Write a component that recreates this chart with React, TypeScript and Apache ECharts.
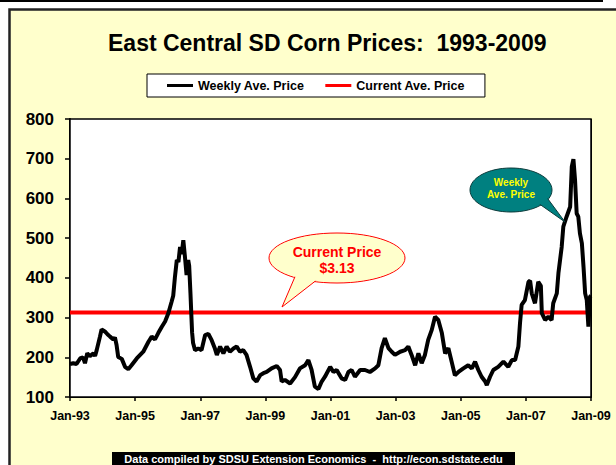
import React, { useEffect, useRef } from "react";
import * as echarts from "echarts";

// Decimal year of each reading and the weekly average price (cents/bu)
const weekYears = [
  1993.0, 1993.1, 1993.2, 1993.31, 1993.4, 1993.46, 1993.53, 1993.61, 1993.72, 1993.77,
  1993.82, 1993.92, 1993.97, 1994.07, 1994.15, 1994.23, 1994.33, 1994.38, 1994.43, 1994.48,
  1994.59, 1994.69, 1994.79, 1994.89, 1995.05, 1995.25, 1995.41, 1995.51, 1995.61, 1995.71,
  1995.82, 1995.92, 1996.02, 1996.12, 1996.17, 1996.22, 1996.28, 1996.33, 1996.38, 1996.43,
  1996.48, 1996.53, 1996.58, 1996.63, 1996.66, 1996.7, 1996.73, 1996.75, 1996.78, 1996.84,
  1996.94, 1997.04, 1997.15, 1997.25, 1997.35, 1997.45, 1997.51, 1997.61, 1997.71, 1997.81,
  1997.91, 1998.02, 1998.12, 1998.22, 1998.32, 1998.42, 1998.53, 1998.63, 1998.73, 1998.84,
  1998.94, 1999.04, 1999.19, 1999.35, 1999.45, 1999.5, 1999.6, 1999.76, 1999.91, 2000.06,
  2000.22, 2000.32, 2000.42, 2000.52, 2000.63, 2000.73, 2000.83, 2000.99, 2001.09, 2001.19,
  2001.34, 2001.45, 2001.55, 2001.65, 2001.75, 2001.91, 2002.06, 2002.21, 2002.37, 2002.47,
  2002.57, 2002.67, 2002.78, 2002.88, 2002.98, 2003.14, 2003.29, 2003.39, 2003.49, 2003.6,
  2003.7, 2003.8, 2003.9, 2004.0, 2004.11, 2004.21, 2004.31, 2004.42, 2004.52, 2004.62,
  2004.72, 2004.82, 2004.93, 2005.08, 2005.23, 2005.34, 2005.44, 2005.54, 2005.64, 2005.75,
  2005.8, 2005.9, 2006.0, 2006.15, 2006.31, 2006.46, 2006.57, 2006.67, 2006.77, 2006.82,
  2006.87, 2006.97, 2007.08, 2007.13, 2007.18, 2007.28, 2007.38, 2007.46, 2007.49, 2007.59,
  2007.69, 2007.79, 2007.84, 2007.95, 2008.0, 2008.1, 2008.15, 2008.25, 2008.36, 2008.41,
  2008.46, 2008.51, 2008.56, 2008.61, 2008.66, 2008.72, 2008.77, 2008.82, 2008.87, 2008.92,
  2008.97, 2009.0,
];
const weeklyPrices = [
  183, 185, 183, 197, 200, 185, 210, 203, 210, 203,
  218, 252, 270, 265, 258, 252, 245, 250, 231, 201,
  196, 176, 170, 180, 197, 214, 239, 252, 245, 261,
  277, 290, 311, 340, 355, 400, 445, 440, 478, 460,
  495, 453, 407, 445, 430, 360, 300, 262, 236, 218,
  222, 218, 256, 259, 243, 222, 206, 227, 210, 227,
  214, 222, 227, 214, 218, 206, 176, 147, 139, 155,
  160, 163, 172, 178, 168, 139, 143, 134, 150, 172,
  180, 193, 168, 126, 120, 139, 151, 176, 163, 168,
  147, 143, 163, 168, 151, 168, 168, 163, 172, 180,
  223, 248, 223, 214, 206, 214, 218, 227, 206, 180,
  210, 185, 206, 244, 269, 302, 294, 261, 210, 223,
  189, 155, 163, 172, 180, 172, 189, 168, 151, 139,
  130, 151, 168, 176, 189, 176, 193, 193, 227, 286,
  332, 344, 390, 393, 361, 336, 390, 380, 311, 294,
  302, 294, 336, 361, 412, 478, 529, 554, 579, 680,
  699, 646, 562, 554, 512, 487, 428, 361, 344, 277,
  353, 355,
];
const currentYears = [1993, 2009];
const currentPrices = [313, 313];
const xTickLabels = ["Jan-93", "Jan-95", "Jan-97", "Jan-99", "Jan-01", "Jan-03", "Jan-05", "Jan-07", "Jan-09"];
const seriesNames = ["Weekly Ave. Price", "Current Ave. Price"];

const FONT = "'Liberation Sans', Arial, sans-serif";

export default function App() {
  const ref = useRef<HTMLDivElement>(null);
  useEffect(() => {
    if (!ref.current) return;
    const chart = echarts.init(ref.current, null, { renderer: "svg" });
    const weekly = weekYears.map((y, i) => [y, weeklyPrices[i]]);
    const current = currentYears.map((y, i) => [y, currentPrices[i]]);
    const splitColors = xTickLabels.map((l) => (l === "Jan-97" ? "#8a8a8a" : "#000"));
    chart.setOption({
      animation: false,
      backgroundColor: "#fff",
      title: {
        text: "East Central SD Corn Prices:  1993-2009",
        left: 103,
        top: 26,
        textStyle: { fontFamily: FONT, fontSize: 23, fontWeight: "bold", color: "#000" },
      },
      legend: {
        data: seriesNames,
        left: 147,
        top: 74,
        padding: [5, 20],
        itemGap: 21,
        itemWidth: 26,
        itemHeight: 3,
        icon: "rect",
        backgroundColor: "#fff",
        borderColor: "#000",
        borderWidth: 1,
        textStyle: { fontFamily: FONT, fontSize: 12.5, fontWeight: "bold", color: "#000" },
      },
      grid: {
        left: 70,
        top: 119,
        width: 521,
        height: 278,
        show: true,
        backgroundColor: "#fff",
        borderColor: "#000",
        borderWidth: 1.5,
        z: 1,
      },
      xAxis: {
        type: "value",
        min: 1993,
        max: 2009,
        interval: 2,
        axisLine: { show: true, onZero: false, lineStyle: { color: "#000", width: 2 } },
        axisTick: { show: true, length: 4, lineStyle: { color: "#000", width: 1.5 } },
        axisLabel: {
          margin: 12,
          fontFamily: FONT,
          fontSize: 12.5,
          fontWeight: "bold",
          color: "#000",
          formatter: (v: number) => xTickLabels[Math.round((v - 1993) / 2)] ?? "",
        },
        splitLine: { show: true, lineStyle: { color: splitColors, width: 1 } },
      },
      yAxis: {
        type: "value",
        min: 100,
        max: 800,
        interval: 100,
        axisLine: { show: true, lineStyle: { color: "#000", width: 2 } },
        axisTick: { show: true, length: 5, lineStyle: { color: "#000", width: 1.5 } },
        axisLabel: {
          margin: 16,
          fontFamily: FONT,
          fontSize: 17,
          fontWeight: "bold",
          color: "#000",
        },
        splitLine: { show: true, lineStyle: { color: "#000", width: 1 } },
      },
      series: [
        {
          name: seriesNames[0],
          type: "line",
          data: weekly,
          showSymbol: false,
          symbol: "none",
          color: "#000",
          lineStyle: { color: "#000", width: 4 },
          z: 4,
        },
        {
          name: seriesNames[1],
          type: "line",
          data: current,
          showSymbol: false,
          symbol: "none",
          color: "#ff0000",
          lineStyle: { color: "#ff0000", width: 4 },
          z: 3,
        },
      ],
      graphic: [
        { type: "rect", z: -10, shape: { x: 0, y: 0, width: 603, height: 2 }, style: { fill: "#000" } },
        {
          type: "rect",
          z: -9,
          shape: { x: 9.5, y: 9.5, width: 640, height: 500 },
          style: { fill: "#FFFFCC", stroke: "#222", lineWidth: 2.5 },
        },
        // Current price callout
        {
          type: "ellipse",
          z: 100,
          shape: { cx: 337, cy: 258, rx: 68, ry: 25 },
          style: { fill: "#FFFFCC", stroke: "#ff0000", lineWidth: 1 },
        },
        {
          type: "polygon",
          z: 101,
          shape: { points: [[297, 272], [282, 307], [318, 279]] },
          style: { fill: "#FFFFCC", stroke: "#ff0000", lineWidth: 1 },
        },
        {
          type: "ellipse",
          z: 102,
          shape: { cx: 337, cy: 258, rx: 67, ry: 24 },
          style: { fill: "#FFFFCC" },
        },
        {
          type: "text",
          z: 103,
          x: 337,
          y: 252,
          style: {
            text: "Current Price",
            fill: "#ff0000",
            font: `bold 14px ${FONT}`,
            align: "center",
            verticalAlign: "middle",
          },
        },
        {
          type: "text",
          z: 103,
          x: 337,
          y: 268,
          style: {
            text: "$3.13",
            fill: "#ff0000",
            font: `bold 14px ${FONT}`,
            align: "center",
            verticalAlign: "middle",
          },
        },
        // Weekly price callout
        {
          type: "ellipse",
          z: 100,
          shape: { cx: 511, cy: 190, rx: 41, ry: 22 },
          style: { fill: "#008080", stroke: "#0b3b3b", lineWidth: 1 },
        },
        {
          type: "polygon",
          z: 101,
          shape: { points: [[538, 203], [565, 222], [545, 195]] },
          style: { fill: "#008080", stroke: "#0b3b3b", lineWidth: 1 },
        },
        {
          type: "ellipse",
          z: 102,
          shape: { cx: 511, cy: 190, rx: 40, ry: 21 },
          style: { fill: "#008080" },
        },
        {
          type: "text",
          z: 103,
          x: 511,
          y: 182,
          style: {
            text: "Weekly",
            fill: "#ffff00",
            font: `bold 10px ${FONT}`,
            align: "center",
            verticalAlign: "middle",
          },
        },
        {
          type: "text",
          z: 103,
          x: 511,
          y: 194,
          style: {
            text: "Ave. Price",
            fill: "#ffff00",
            font: `bold 10px ${FONT}`,
            align: "center",
            verticalAlign: "middle",
          },
        },
        // Source footer
        { type: "rect", z: 50, shape: { x: 112, y: 452, width: 403, height: 20 }, style: { fill: "#000" } },
        {
          type: "text",
          z: 51,
          x: 313.5,
          y: 459,
          style: {
            text: "Data compiled by SDSU Extension Economics  -  http://econ.sdstate.edu",
            fill: "#fff",
            font: `bold 11px ${FONT}`,
            align: "center",
            verticalAlign: "middle",
          },
        },
      ],
    });
    return () => chart.dispose();
  }, []);
  return (
    <div
      ref={ref}
      style={{ position: "fixed", left: 0, top: 0, width: 616, height: 465 }}
    />
  );
}
